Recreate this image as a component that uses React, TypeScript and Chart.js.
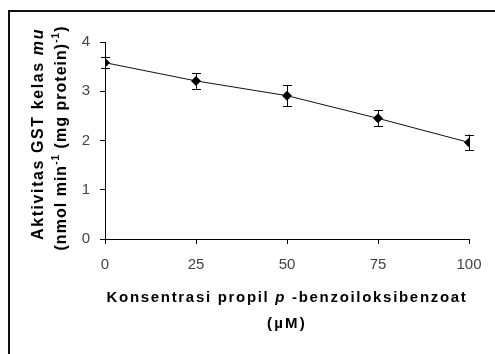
import React, { useEffect, useRef } from "react";
import { Chart, registerables } from "chart.js";

Chart.register(...registerables);

const concentrations = [0, 25, 50, 75, 100];
const activity = [3.58, 3.21, 2.91, 2.45, 1.96];
const errors = [0.11, 0.16, 0.21, 0.16, 0.16];
const xTicks = [0, 25, 50, 75, 100];
const yTicks = [0, 1, 2, 3, 4];

const xTitle1 = [
  { t: "Konsentrasi propil ", i: false },
  { t: "p", i: true },
  { t: " -benzoiloksibenzoat", i: false },
];
const xTitle2 = [{ t: "(\u00b5M)", i: false }];
const yTitle1 = [
  { t: "Aktivitas GST kelas ", i: false },
  { t: "mu", i: true },
];
const yTitle2 = [
  { t: "(nmol min", i: false },
  { t: "-1", i: false, sup: true },
  { t: " (mg protein)", i: false },
  { t: "-1", i: false, sup: true },
  { t: ")", i: false },
];

type Seg = { t: string; i: boolean; sup?: boolean };
const FAM = '"Liberation Sans", Arial, sans-serif';

function fontFor(s: Seg, size: number) {
  const sz = s.sup ? Math.round(size * 0.62) : size;
  return `${s.i ? "italic " : ""}bold ${sz}px ${FAM}`;
}

function drawRich(
  ctx: CanvasRenderingContext2D,
  segs: Seg[],
  size: number,
  target: number
) {
  let total = 0;
  let chars = 0;
  for (const s of segs) {
    ctx.font = fontFor(s, size);
    (ctx as any).letterSpacing = "0px";
    total += ctx.measureText(s.t).width;
    chars += s.t.length;
  }
  const ls = (target - total) / chars;
  let x = -(total + ls * chars) / 2;
  ctx.textAlign = "left";
  ctx.textBaseline = "middle";
  for (const s of segs) {
    ctx.font = fontFor(s, size);
    (ctx as any).letterSpacing = `${ls}px`;
    const w = ctx.measureText(s.t).width;
    ctx.fillText(s.t, x, s.sup ? -size * 0.38 : 0);
    x += w;
  }
  (ctx as any).letterSpacing = "0px";
}

const extrasPlugin = {
  id: "extras",
  afterDatasetsDraw(chart: any) {
    const ctx: CanvasRenderingContext2D = chart.ctx;
    const xs = chart.scales.x;
    const ys = chart.scales.y;
    ctx.save();
    ctx.strokeStyle = "#000";
    ctx.lineWidth = 1;
    concentrations.forEach((c, k) => {
      const px = Math.round(xs.getPixelForValue(c)) + 0.5;
      const top = ys.getPixelForValue(activity[k] + errors[k]);
      const bot = ys.getPixelForValue(activity[k] - errors[k]);
      ctx.beginPath();
      ctx.moveTo(px, top);
      ctx.lineTo(px, bot);
      ctx.moveTo(px - 4.5, Math.round(top) + 0.5);
      ctx.lineTo(px + 4.5, Math.round(top) + 0.5);
      ctx.moveTo(px - 4.5, Math.round(bot) + 0.5);
      ctx.lineTo(px + 4.5, Math.round(bot) + 0.5);
      ctx.stroke();
    });
    ctx.restore();
  },
  afterDraw(chart: any) {
    const ctx: CanvasRenderingContext2D = chart.ctx;
    const a = chart.chartArea;
    ctx.save();
    ctx.fillStyle = "#111";
    ctx.fillRect(8, 10, chart.width - 8, 2);
    ctx.fillRect(8, 10, 2, chart.height - 10);
    ctx.fillStyle = "#000";
    const cx = (a.left + a.right) / 2;
    ctx.save();
    ctx.translate(cx, 298);
    drawRich(ctx, xTitle1, 15, 361);
    ctx.restore();
    ctx.save();
    ctx.translate(cx, 324);
    drawRich(ctx, xTitle2, 15, 40);
    ctx.restore();
    ctx.save();
    ctx.translate(39, 134);
    ctx.rotate(-Math.PI / 2);
    drawRich(ctx, yTitle1, 16, 212);
    ctx.restore();
    ctx.save();
    ctx.translate(62, 138);
    ctx.rotate(-Math.PI / 2);
    drawRich(ctx, yTitle2, 16, 225);
    ctx.restore();
    ctx.restore();
  },
};

export default function App() {
  const ref = useRef<HTMLCanvasElement | null>(null);
  useEffect(() => {
    const chart = new Chart(ref.current as HTMLCanvasElement, {
      type: "line",
      data: {
        datasets: [
          {
            data: concentrations.map((c, k) => ({ x: c, y: activity[k] })),
            borderColor: "#111",
            borderWidth: 1,
            backgroundColor: "#000",
            pointStyle: "rectRot",
            pointRadius: 5,
            pointBorderWidth: 0,
            pointBackgroundColor: "#000",
            tension: 0,
          },
        ],
      },
      options: {
        animation: false,
        responsive: false,
        layout: { padding: { left: 0, top: 42, right: 26, bottom: 0 } },
        plugins: { legend: { display: false }, tooltip: { enabled: false } },
        scales: {
          x: {
            type: "linear",
            min: 0,
            max: 100,
            afterBuildTicks: (s: any) => {
              s.ticks = xTicks.map((v) => ({ value: v }));
            },
            afterFit: (s: any) => {
              s.height = 115;
            },
            grid: {
              display: true,
              drawOnChartArea: false,
              drawTicks: true,
              tickLength: 5,
              color: "#000",
            },
            border: { display: true, color: "#000", width: 1 },
            ticks: {
              padding: 12,
              color: "#444",
              font: { family: FAM, size: 15 },
              maxRotation: 0,
            },
          },
          y: {
            type: "linear",
            min: 0,
            max: 4,
            afterBuildTicks: (s: any) => {
              s.ticks = yTicks.map((v) => ({ value: v }));
            },
            afterFit: (s: any) => {
              s.width = 105;
            },
            grid: {
              display: true,
              drawOnChartArea: false,
              drawTicks: true,
              tickLength: 5,
              color: "#000",
            },
            border: { display: true, color: "#000", width: 1 },
            ticks: {
              padding: 10,
              color: "#444",
              font: { family: FAM, size: 15 },
            },
          },
        },
      },
      plugins: [extrasPlugin],
    } as any);
    return () => chart.destroy();
  }, []);
  return (
    <div style={{ position: "fixed", left: 0, top: 0, width: 495, height: 354, background: "#fff" }}>
      <canvas ref={ref} width={495} height={354} style={{ display: "block" }} />
    </div>
  );
}
